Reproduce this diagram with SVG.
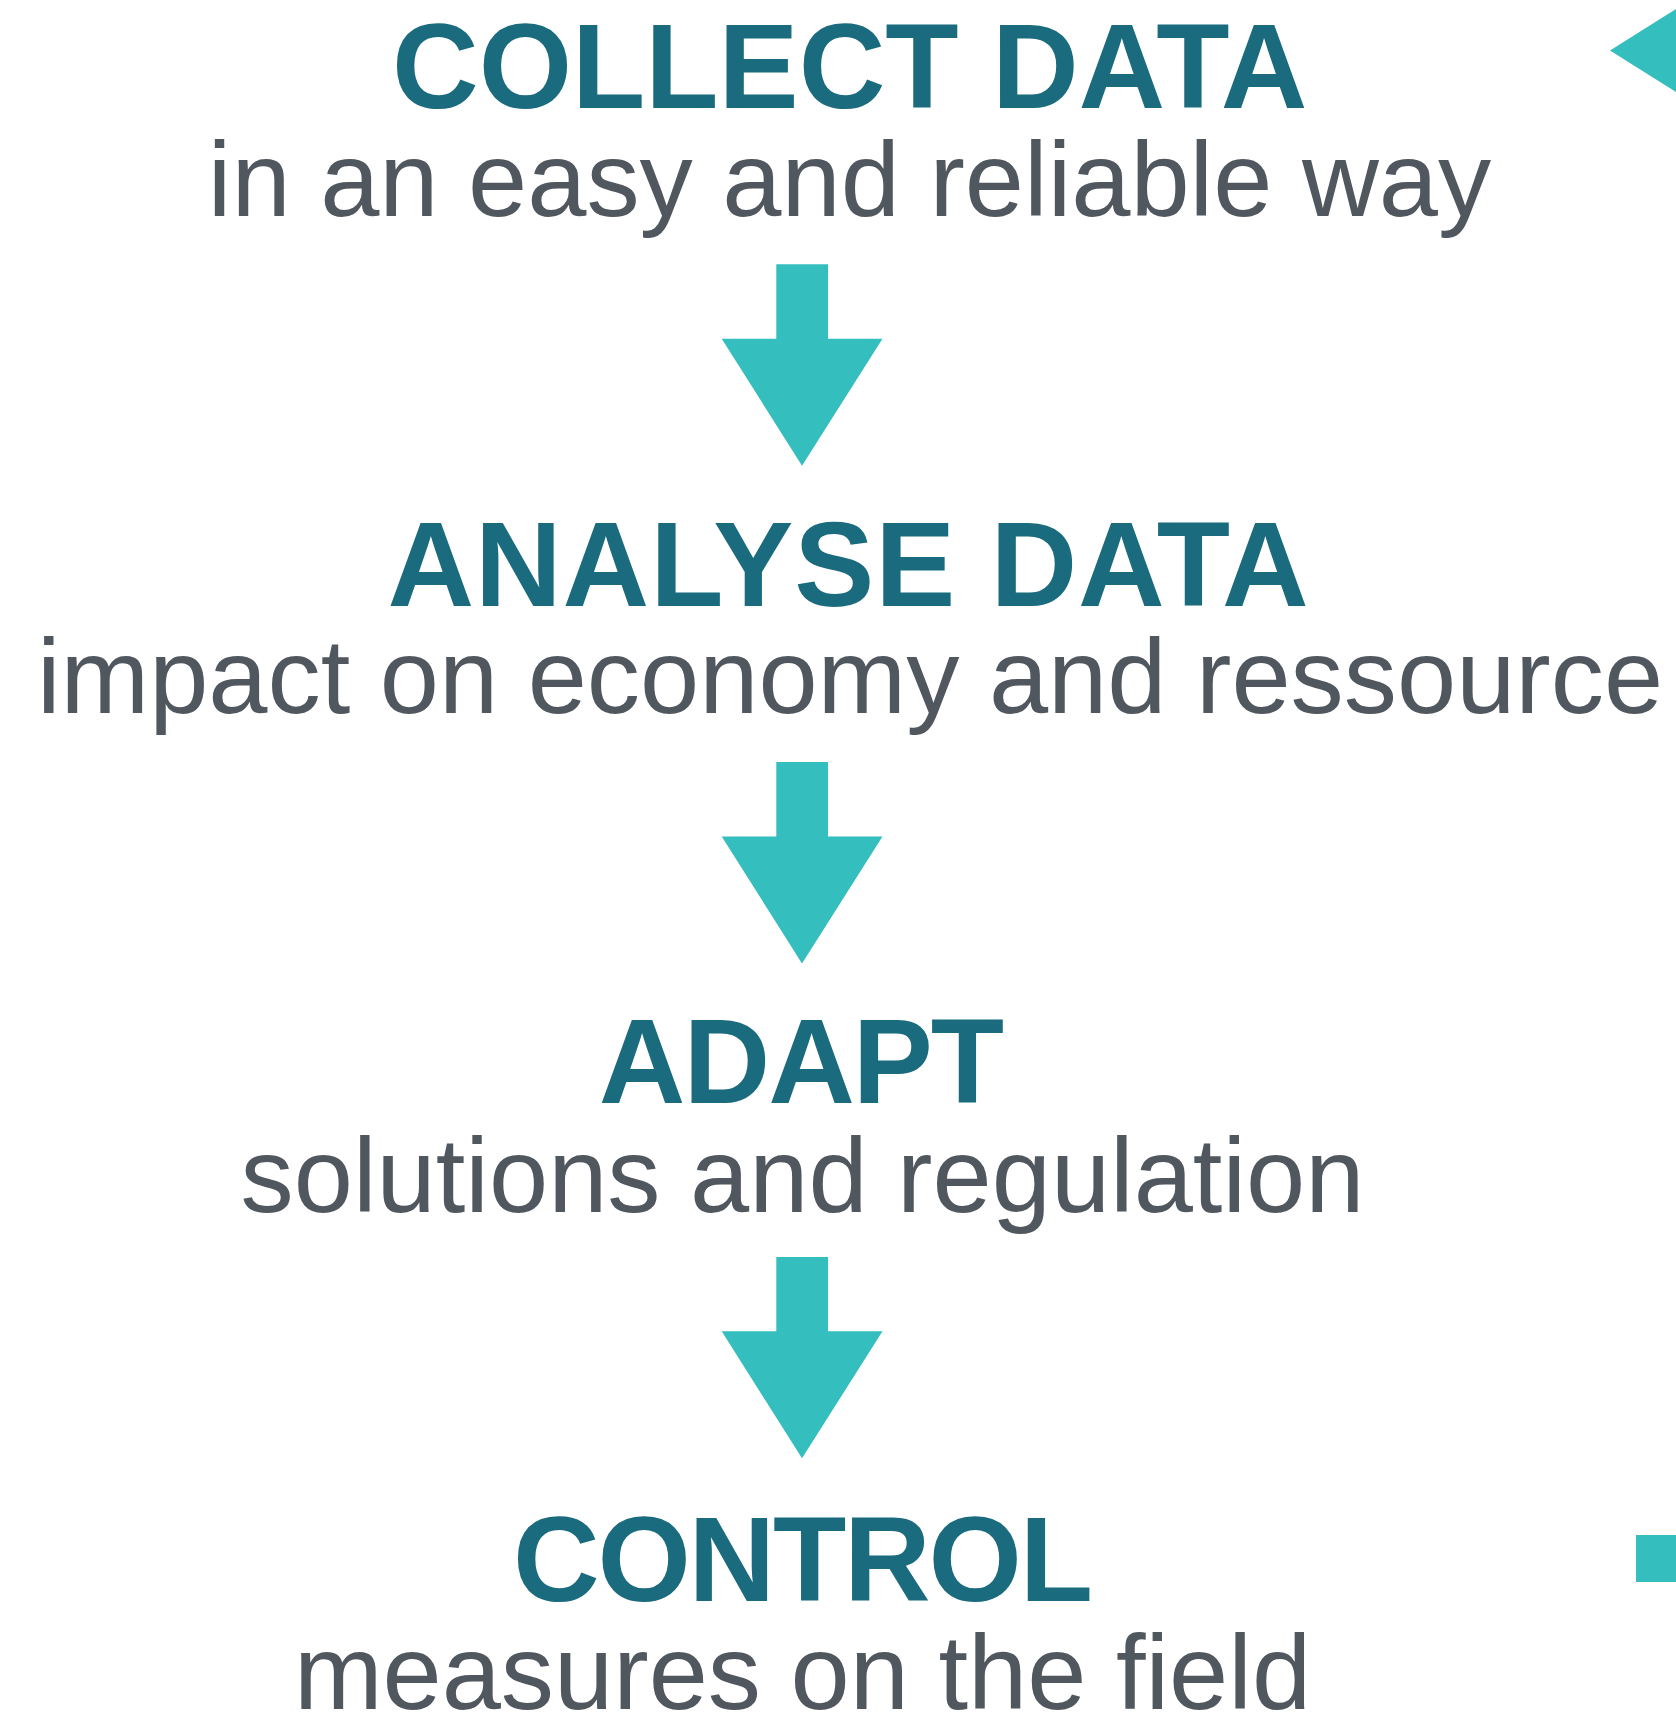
<svg xmlns="http://www.w3.org/2000/svg" width="1676" height="1714" viewBox="0 0 1676 1714">
  <style>
    .title { font-family: "Liberation Sans", Arial, sans-serif; font-weight: bold; font-size: 120px; fill: #1B6B7F; text-anchor: middle; }
    .sub { font-family: "Liberation Sans", Arial, sans-serif; font-size: 106.4px; fill: #50575F; text-anchor: middle; }
    .accent { fill: #34BEBE; }
  </style>
  <defs>
    <polygon id="downArrow" points="776.3,0 828,0 828,74.4 882.5,74.4 802,201.4 721.7,74.4 776.3,74.4"/>
  </defs>
  <rect x="0" y="0" width="1676" height="1714" fill="#FFFFFF"/>

  <g id="node-collect">
    <text class="title" x="849.7" y="108.3">COLLECT DATA</text>
    <text class="sub" x="849.5" y="216">in an easy and reliable way</text>
  </g>
  <g id="node-analyse">
    <text class="title" x="848.5" y="605.7" letter-spacing="0.9">ANALYSE DATA</text>
    <text class="sub" x="850" y="713.3">impact on economy and ressource</text>
  </g>
  <g id="node-adapt">
    <text class="title" x="800.5" y="1103.3" letter-spacing="-2">ADAPT</text>
    <text class="sub" x="802.5" y="1211.5">solutions and regulation</text>
  </g>
  <g id="node-control">
    <text class="title" x="801.9" y="1601" letter-spacing="-2.2">CONTROL</text>
    <text class="sub" x="802.5" y="1708.6">measures on the field</text>
  </g>

  <g id="connectors">
    <use href="#downArrow" class="accent" x="0" y="264.3"/>
    <use href="#downArrow" class="accent" x="0" y="762"/>
    <use href="#downArrow" class="accent" x="0" y="1256.9"/>
  </g>

  <g id="edge-shapes">
    <polygon class="accent" points="1610,50.5 1676,9 1676,92"/>
    <rect class="accent" x="1636" y="1535" width="40" height="47"/>
  </g>
</svg>
